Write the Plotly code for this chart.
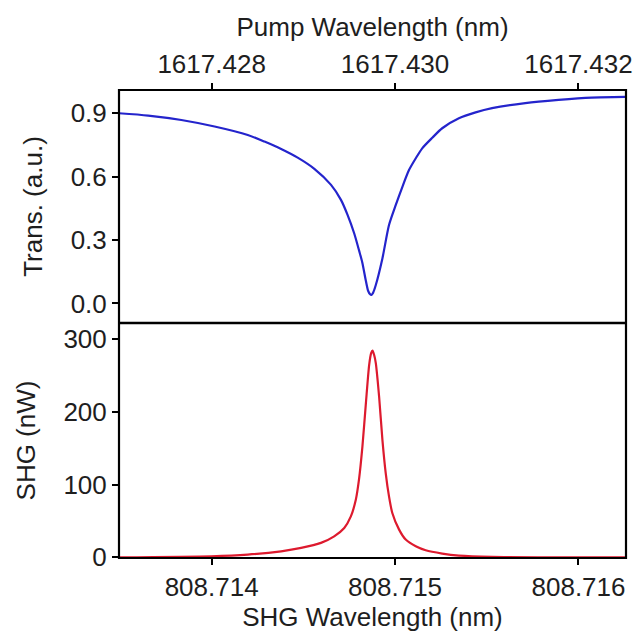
import plotly.graph_objects as go

# --- data ---
trans_wl = [808.713495, 808.713654, 808.713835, 808.714016, 808.714197, 808.714288,
            808.714379, 808.714469, 808.714560, 808.714651, 808.714705, 808.714741,
            808.714777, 808.714804, 808.714821, 808.714841, 808.714853, 808.714864,
            808.714871, 808.714880, 808.714895, 808.714931, 808.714967, 808.715004,
            808.715040, 808.715076, 808.715113, 808.715148, 808.715203, 808.715257,
            808.715348, 808.715439, 808.715529, 808.715710, 808.715891, 808.716072,
            808.716254]
trans_val = [0.900, 0.889, 0.868, 0.837, 0.797, 0.766,
             0.731, 0.690, 0.637, 0.561, 0.490, 0.419,
             0.332, 0.250, 0.195, 0.106, 0.060, 0.043,
             0.040, 0.050, 0.087, 0.213, 0.371, 0.466,
             0.552, 0.631, 0.687, 0.734, 0.784, 0.829,
             0.876, 0.904, 0.924, 0.948, 0.963, 0.974,
             0.977]

shg_wl = [808.713495, 808.713998, 808.714197, 808.714379, 808.714488, 808.714596,
          808.714668, 808.714723, 808.714759, 808.714786, 808.714804, 808.714822,
          808.714841, 808.714859, 808.714870, 808.714877, 808.714886, 808.714895,
          808.714913, 808.714931, 808.714949, 808.714967, 808.714985, 808.715022,
          808.715058, 808.715113, 808.715167, 808.715257, 808.715348, 808.715529,
          808.715891, 808.716254]
shg_val = [0.0, 1.4, 3.7, 8.2, 12.9, 19.8,
           28.8, 40.3, 56.2, 79.0, 108.0, 152.0,
           212.0, 265.0, 281.0, 284.0, 278.0, 267.0,
           221.0, 161.5, 115.8, 83.7, 60.9, 38.0,
           24.3, 15.1, 9.6, 5.1, 2.3, 0.5,
           0.0, 0.0]

shg_ticks = [808.714, 808.715, 808.716]
shg_ticktext = ["808.714", "808.715", "808.716"]
pump_ticks = [1617.428, 1617.430, 1617.432]
pump_ticktext = ["1617.428", "1617.430", "1617.432"]
trans_ticks = [0.0, 0.3, 0.6, 0.9]
trans_ticktext = ["0.0", "0.3", "0.6", "0.9"]
shg_yticks = [0, 100, 200, 300]

x_range = [808.713495, 808.716259]
pump_range = [2 * x_range[0], 2 * x_range[1]]

FONT = "Liberation Sans, Arial, sans-serif"
TXT = "#1e1e1e"
FS = 26

fig = go.Figure()
fig.add_trace(go.Scatter(x=trans_wl, y=trans_val, mode="lines",
                         line=dict(color="#2424cc", width=2.2, shape="spline", smoothing=0.7),
                         xaxis="x2", yaxis="y2", showlegend=False))
fig.add_trace(go.Scatter(x=shg_wl, y=shg_val, mode="lines",
                         line=dict(color="#dd1a2e", width=2.2, shape="spline", smoothing=0.7),
                         xaxis="x", yaxis="y", showlegend=False))
# invisible trace to carry the top pump-wavelength axis
fig.add_trace(go.Scatter(x=[2 * v for v in trans_wl], y=trans_val, mode="lines",
                         line=dict(color="rgba(0,0,0,0)", width=0),
                         xaxis="x3", yaxis="y2", showlegend=False, hoverinfo="skip"))

axis_common = dict(showline=False, mirror=False,
                   ticks="outside", ticklen=6, tickwidth=1.5, tickcolor="black",
                   showgrid=False, zeroline=False,
                   tickfont=dict(family=FONT, size=FS, color=TXT))

split = 0.502
fig.update_layout(
    width=640, height=641,
    margin=dict(l=119, r=8, t=90, b=83),
    paper_bgcolor="white", plot_bgcolor="white",
    font=dict(family=FONT, color=TXT),
    xaxis=dict(axis_common, domain=[0, 1], anchor="y", range=x_range,
               tickvals=shg_ticks, ticktext=shg_ticktext,
               title=dict(text="SHG Wavelength (nm)", font=dict(family=FONT, size=FS, color=TXT), standoff=4)),
    yaxis=dict(axis_common, domain=[0, split], anchor="x", range=[-1, 322],
               tickvals=shg_yticks,
               title=dict(text="SHG (nW)", font=dict(family=FONT, size=FS, color=TXT), standoff=20)),
    xaxis2=dict(axis_common, domain=[0, 1], anchor="y2", range=x_range,
                ticks="", showticklabels=False),
    yaxis2=dict(axis_common, domain=[split, 1], anchor="x2", range=[-0.093, 1.01],
                tickvals=trans_ticks, ticktext=trans_ticktext,
                title=dict(text="Trans. (a.u.)", font=dict(family=FONT, size=FS, color=TXT), standoff=20)),
    xaxis3=dict(axis_common, overlaying="x2", anchor="y2", side="top", range=pump_range,
                tickvals=pump_ticks, ticktext=pump_ticktext,
                title=dict(text="Pump Wavelength (nm)", font=dict(family=FONT, size=FS, color=TXT), standoff=4)),
    shapes=[
        dict(type="rect", xref="paper", yref="paper", x0=0, x1=1, y0=0, y1=1,
             line=dict(color="black", width=2.2), layer="above"),
        dict(type="line", xref="paper", yref="paper", x0=0, x1=1, y0=split, y1=split,
             line=dict(color="black", width=2.5), layer="above"),
    ],
)

fig.write_html("out.html",
               config={"displayModeBar": False},
               post_script="document.documentElement.style.overflow='hidden';"
                           "document.body.style.overflow='hidden';"
                           "document.body.style.margin='0';")
